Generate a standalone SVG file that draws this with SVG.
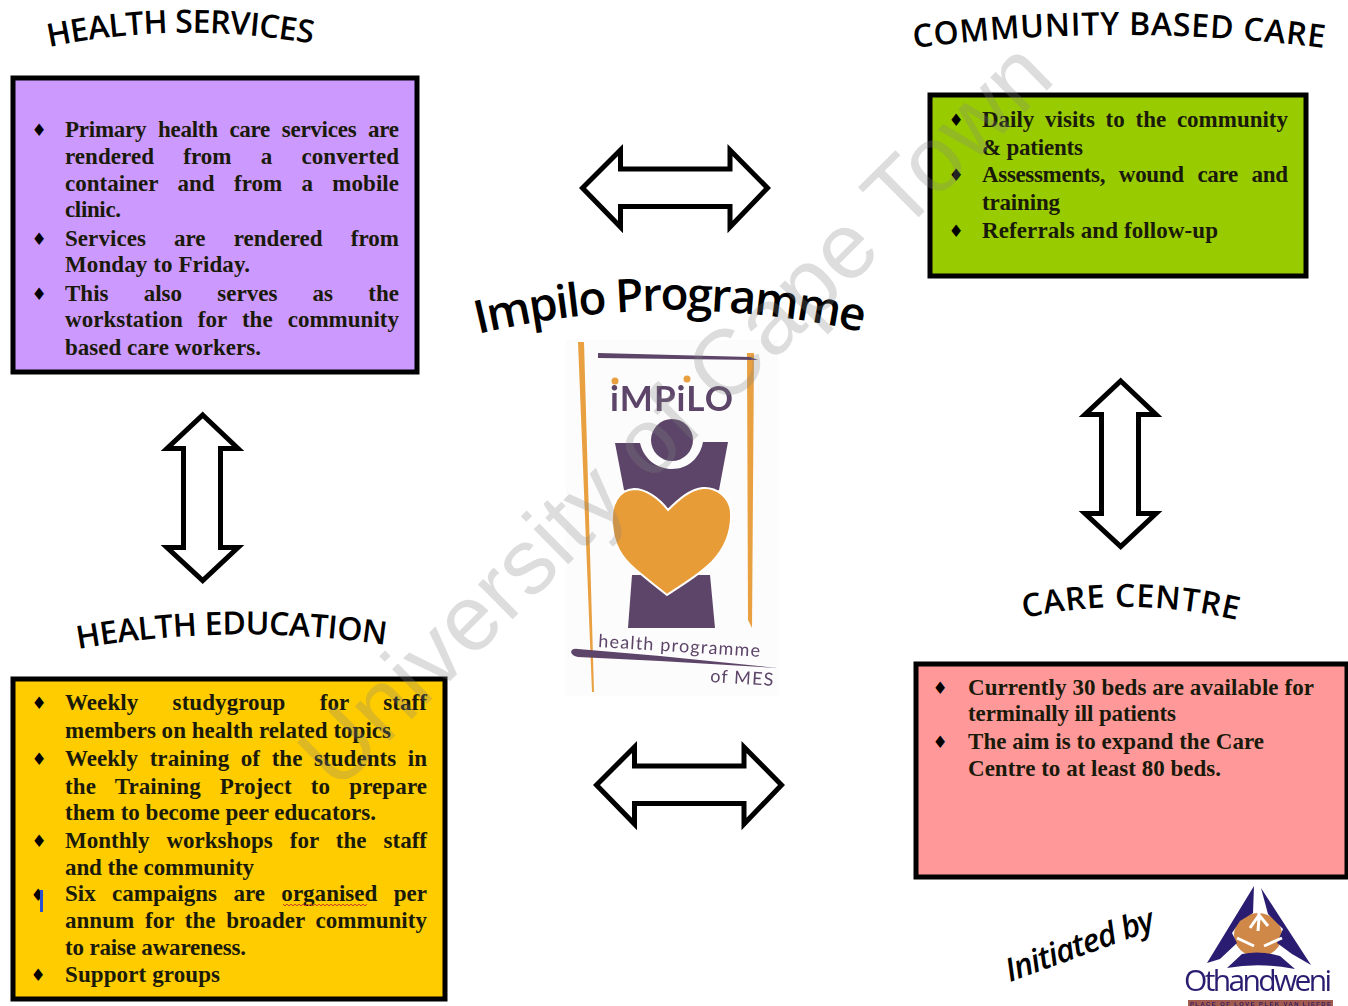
<svg xmlns="http://www.w3.org/2000/svg" width="1348" height="1006" viewBox="0 0 1348 1006">
<style>
.box{stroke:#000;stroke-width:5}
.t{font-family:"Liberation Serif","Times New Roman",serif;font-weight:700;font-size:23px;fill:#1a1a0a}
.b{font-family:"DejaVu Sans",sans-serif;font-size:17px;fill:#000;text-anchor:middle}
.h{font-family:"Open Sans","Noto Sans",sans-serif;font-weight:600;font-size:32px;fill:#000}
.a{fill:#fff;stroke:#000;stroke-width:5;stroke-linejoin:miter;stroke-miterlimit:8}
</style>
<defs>
<path id="p1" d="M49 47Q180 20 314 44"/>
<path id="p2" d="M914 48Q1120 22 1324 48"/>
<path id="p3" d="M78 649Q230 622 387 645"/>
<path id="p4" d="M1024 618Q1130 595 1237 620"/>
<path id="p5" d="M478 334Q670 288 862 332"/>
<filter id="soft" x="-5%" y="-5%" width="110%" height="110%"><feGaussianBlur stdDeviation="0.6"/></filter>
</defs>
<rect width="1348" height="1006" fill="#fff"/>

<g id="health-services">
<text class="h" textLength="265"><textPath href="#p1">HEALTH SERVICES</textPath></text>
<rect class="box" x="13" y="78" width="404" height="294" fill="#cc99ff"/>
<text class="b" x="39" y="136">♦</text><text class="b" x="39" y="245">♦</text><text class="b" x="39" y="300">♦</text>
<text class="t" x="65" y="137" word-spacing="6.2" textLength="334">Primary health care services are</text>
<text class="t" x="65" y="164" word-spacing="23.4" textLength="334">rendered from a converted</text>
<text class="t" x="65" y="191" word-spacing="13.5" textLength="334">container and from a mobile</text>
<text class="t" x="65" y="217" textLength="56">clinic.</text>
<text class="t" x="65" y="246" word-spacing="22.2" textLength="334">Services are rendered from</text>
<text class="t" x="65" y="272" textLength="185">Monday to Friday.</text>
<text class="t" x="65" y="301" word-spacing="29.5" textLength="334">This also serves as the</text>
<text class="t" x="65" y="327" word-spacing="9.3" textLength="334">workstation for the community</text>
<text class="t" x="65" y="355" textLength="196">based care workers.</text>
</g>

<g id="community-based-care">
<text class="h" textLength="411"><textPath href="#p2">COMMUNITY BASED CARE</textPath></text>
<rect class="box" x="930" y="95" width="376" height="181" fill="#99cc00"/>
<text class="b" x="956" y="126">♦</text><text class="b" x="956" y="181">♦</text><text class="b" x="956" y="237">♦</text>
<text class="t" x="982" y="127" word-spacing="5" textLength="306">Daily visits to the community</text>
<text class="t" x="982" y="155" textLength="101">&amp; patients</text>
<text class="t" x="982" y="182" word-spacing="8.4" textLength="306">Assessments, wound care and</text>
<text class="t" x="982" y="210" textLength="78">training</text>
<text class="t" x="982" y="238" textLength="236">Referrals and follow-up</text>
</g>

<g id="health-education">
<text class="h" textLength="309"><textPath href="#p3">HEALTH EDUCATION</textPath></text>
<rect class="box" x="13" y="679" width="432" height="320" fill="#ffcc00"/>
<text class="b" x="39" y="709">♦</text><text class="b" x="39" y="765">♦</text><text class="b" x="39" y="847">♦</text><text class="b" x="38" y="901">♦</text><text class="b" x="38" y="981">♦</text>
<text class="t" x="65" y="710" word-spacing="28.5" textLength="362">Weekly studygroup for staff</text>
<text class="t" x="65" y="738" textLength="326">members on health related topics</text>
<text class="t" x="65" y="766" word-spacing="5.8" textLength="362">Weekly training of the students in</text>
<text class="t" x="65" y="794" word-spacing="13.2" textLength="362">the Training Project to prepare</text>
<text class="t" x="65" y="820" textLength="311">them to become peer educators.</text>
<text class="t" x="65" y="848" word-spacing="11.3" textLength="362">Monthly workshops for the staff</text>
<text class="t" x="65" y="875" textLength="189">and the community</text>
<text class="t" x="65" y="901" word-spacing="10.6" textLength="362">Six campaigns are organised per</text>
<text class="t" x="65" y="928" word-spacing="4.9" textLength="362">annum for the broader community</text>
<text class="t" x="65" y="955" textLength="181">to raise awareness.</text>
<text class="t" x="65" y="982" textLength="155">Support groups</text>
<rect x="40" y="890" width="3" height="22" fill="#2a50d0"/>
<path d="M283 904l2 2 2-2 2 2 2-2 2 2 2-2 2 2 2-2 2 2 2-2 2 2 2-2 2 2 2-2 2 2 2-2 2 2 2-2 2 2 2-2 2 2 2-2 2 2 2-2 2 2 2-2 2 2 2-2 2 2 2-2 2 2 2-2 2 2 2-2 2 2 2-2 2 2 2-2 2 2 2-2 2 2 2-2" fill="none" stroke="#d04020" stroke-width="1"/>
</g>

<g id="care-centre">
<text class="h" textLength="215"><textPath href="#p4">CARE CENTRE</textPath></text>
<rect class="box" x="916" y="664" width="431" height="213" fill="#ff9999"/>
<text class="b" x="940" y="694">♦</text><text class="b" x="940" y="748">♦</text>
<text class="t" x="968" y="695" textLength="346">Currently 30 beds are available for</text>
<text class="t" x="968" y="721" textLength="208">terminally ill patients</text>
<text class="t" x="968" y="749" textLength="296">The aim is to expand the Care</text>
<text class="t" x="968" y="776" textLength="253">Centre to at least 80 beds.</text>
</g>

<g id="connectors">
<path class="a" d="M582.500 188L620.500 150V169H730V150L767.500 188L730 227V206.500H620.500V227Z"/>
<path class="a" d="M596.500 785L634.500 747V766H744V747L781.500 785L744 824V803.500H634.500V824Z"/>
<path class="a" d="M202.700 415L238 448.500H220.500V547.500H238L202.700 580.500L167 547.500H183.500V448.500H167Z"/>
<path class="a" d="M1120.700 381L1156 414.500H1138.500V513.500H1156L1120.700 546.500L1085 513.500H1101.500V414.500H1085Z"/>
</g>

<g id="impilo-programme">
<text class="h" style="font-size:46px;font-weight:600" textLength="388"><textPath href="#p5">Impilo Programme</textPath></text>
<g filter="url(#soft)">
<rect x="566" y="340" width="212" height="356" fill="#fdfcfc"/>
<path d="M578 342L584 342L594 692L592 692Z" fill="#e8a040"/>
<path d="M747 353L754 353L752 628L748 620Z" fill="#e8a040"/>
<path d="M598 353L750 357L758 360L598 358Z" fill="#5c4468"/>
<text x="610" y="411" font-family="Lato,sans-serif" font-weight="700" font-size="35" fill="#5c4468" textLength="123">iMPiLO</text>
<circle cx="615" cy="381" r="3.500" fill="#e8a040"/><circle cx="687" cy="379" r="3.500" fill="#e8a040"/>
<circle cx="672" cy="440" r="21" fill="#5c4468"/>
<path d="M615 443H640C644 460 658 469 672 469C688 469 700 458 703 442H728L719 490L668 515L624 490Z" fill="#5c4468"/>
<path d="M632 575H710L715 628H628Z" fill="#5c4468"/>
<path d="M668 510C658 497 645 489 634 489C618 490 611 505 612 522C613 545 622 558 636 570C648 580 658 588 667 595C680 586 698 576 712 562C726 547 732 530 731 512C730 497 716 487 703 488C690 489 678 500 668 510Z" fill="#e89c38" stroke="#fff" stroke-width="2"/>
<text x="598" y="647" font-family="Lato,sans-serif" font-size="18" fill="#5c4468" textLength="162" transform="rotate(3.500 598 647)">health programme</text>
<path d="M571 652Q572 648 578 649L660 656L778 668L660 661L578 657Q572 656 571 652Z" fill="#5c4468"/>
<text x="710" y="682" font-family="Lato,sans-serif" font-size="18" fill="#5c4468" textLength="63" transform="rotate(3.500 710 682)">of MES</text>
</g>
</g>

<g id="initiated-by">
<text x="1010" y="982" font-family="'Open Sans','Noto Sans',sans-serif" font-style="italic" font-weight="600" font-size="32" fill="#000" textLength="156" transform="rotate(-20 1010 982)">Initiated by</text>
</g>

<g id="othandweni">
<g filter="url(#soft)">
<ellipse cx="1258" cy="935" rx="24" ry="22" fill="#d08848"/>
<path d="M1254 886L1253 913L1240 921L1232 933L1237 943L1220 959L1207 963Z" fill="#2a1f70"/>
<path d="M1261 888L1268 914L1283 929L1277 943L1292 954L1311 965Z" fill="#2a1f70"/>
<path d="M1227 968L1242 954Q1260 950 1280 956L1295 969Q1260 962 1227 968Z" fill="#2a1f70"/>
<path d="M1258 884L1259 920M1259 915L1250 928M1259 918L1258 931M1259 915L1268 926M1237 938L1254 946M1282 938L1264 946" fill="none" stroke="#fff" stroke-width="3"/>
<text x="1184" y="991" font-family="'Open Sans',sans-serif" font-weight="400" font-size="30" fill="#2a1f70" textLength="148">Othandweni</text>
<rect x="1188" y="1000" width="145" height="6" fill="#a05a50"/>
<text x="1190" y="1005.500" font-family="'Liberation Sans',sans-serif" font-weight="700" font-size="6" fill="#3a2060" textLength="141">PLACE OF LOVE   PLEK VAN LIEFDE</text>
</g>
</g>

<text id="watermark" x="0" y="0" transform="translate(337 793) rotate(-44.700)" font-family="'Liberation Sans',sans-serif" font-size="93" fill="#808080" fill-opacity="0.27" textLength="1013">University of Cape Town</text>
</svg>
